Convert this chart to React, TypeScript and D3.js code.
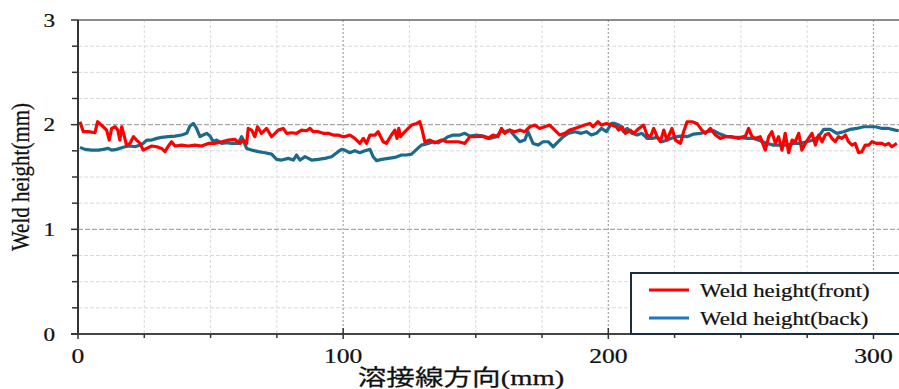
import * as d3 from 'd3';

const xTicks = [0, 100, 200, 300];
const yTicks = [0, 1, 2, 3];
const xLabel = '溶接線方向(mm)';
const yLabel = 'Weld height(mm)';
const seriesNames = ['Weld height(front)', 'Weld height(back)'];

// [position along weld (mm), height (mm)]
const front: [number, number][] = [
  [0.75, 2.028], [2.0, 1.933], [3.9, 1.933], [6.4, 1.923], [7.4, 2.028], [9.5, 1.98], [10.8, 1.948],
  [11.8, 1.853], [12.7, 1.964], [14.0, 1.98], [15.0, 1.948], [15.8, 1.853], [16.5, 1.98], [17.5, 1.885],
  [18.3, 1.805], [19.6, 1.821], [20.9, 1.885], [22.1, 1.853], [23.4, 1.821], [24.6, 1.757], [25.9, 1.773],
  [27.8, 1.796], [29.7, 1.789], [31.5, 1.773], [32.8, 1.742], [34.1, 1.796], [35.3, 1.837], [36.6, 1.796],
  [39.1, 1.805], [41.6, 1.796], [44.1, 1.805], [46.6, 1.796], [49.1, 1.821], [51.6, 1.821], [54.2, 1.837],
  [56.7, 1.853], [59.2, 1.859], [61.1, 1.821], [62.3, 1.853], [63.6, 1.821], [64.2, 1.964], [65.5, 1.948],
  [66.7, 1.885], [67.7, 1.98], [69.2, 1.917], [71.1, 1.964], [73.0, 1.885], [74.3, 1.917], [75.5, 1.948],
  [77.4, 1.964], [78.7, 1.917], [80.5, 1.923], [82.4, 1.917], [84.3, 1.948], [86.2, 1.942], [87.5, 1.964],
  [88.7, 1.933], [90.6, 1.933], [92.5, 1.917], [94.4, 1.917], [96.2, 1.901], [98.1, 1.901], [100.0, 1.885],
  [100.6, 1.885], [102.5, 1.901], [104.4, 1.869], [106.3, 1.821], [107.6, 1.869], [108.8, 1.821],
  [110.1, 1.901], [112.0, 1.901], [113.2, 1.933], [115.1, 1.837], [116.3, 1.821], [118.2, 1.901],
  [119.5, 1.948], [120.3, 1.869], [121.0, 1.964], [121.6, 1.885], [123.3, 1.933], [125.8, 1.996],
  [127.7, 2.012], [128.9, 2.028], [129.8, 1.948], [130.8, 1.837], [132.7, 1.853], [134.6, 1.827],
  [137.1, 1.853], [139.0, 1.837], [140.9, 1.837], [143.4, 1.837], [145.9, 1.821], [147.8, 1.885],
  [149.6, 1.885], [152.2, 1.891], [154.7, 1.869], [156.5, 1.901], [158.4, 1.885], [159.7, 1.964],
  [160.9, 1.917], [162.8, 1.948], [164.7, 1.933], [166.6, 1.948], [168.5, 1.933], [170.4, 1.98],
  [172.3, 1.996], [174.1, 1.964], [176.0, 1.98], [177.9, 1.996], [179.8, 1.948], [181.7, 1.901],
  [183.6, 1.917], [185.4, 1.948], [187.3, 1.964], [189.2, 1.98], [191.1, 1.996], [193.0, 2.012],
  [194.2, 1.98], [196.1, 2.028], [197.4, 1.996], [199.3, 2.012], [201.2, 1.996], [203.0, 1.98],
  [203.9, 1.948], [205.2, 1.98], [206.4, 1.917], [208.3, 1.948], [209.6, 1.917], [211.5, 1.964],
  [213.3, 1.996], [214.6, 1.901], [215.9, 1.885], [217.1, 1.964], [218.4, 1.885], [219.6, 1.837],
  [220.9, 1.948], [222.1, 1.853], [224.0, 1.964], [225.3, 1.853], [227.2, 1.821], [228.4, 1.933],
  [229.7, 2.028], [231.6, 2.028], [233.4, 2.012], [235.3, 1.948], [236.6, 1.917], [238.5, 1.964],
  [240.4, 1.901], [242.2, 1.869], [244.1, 1.885], [246.6, 1.885], [249.2, 1.869], [251.7, 1.891],
  [252.9, 1.964], [254.2, 1.885], [255.4, 1.869], [257.3, 1.885], [259.2, 1.757], [260.5, 1.885],
  [261.7, 1.933], [263.0, 1.821], [264.2, 1.885], [265.5, 1.757], [266.7, 1.917], [268.0, 1.732],
  [269.3, 1.853], [270.5, 1.837], [271.8, 1.917], [273.0, 1.757], [274.3, 1.821], [275.5, 1.869],
  [276.8, 1.917], [278.1, 1.805], [279.3, 1.901], [280.6, 1.837], [281.8, 1.901], [283.1, 1.917],
  [284.3, 1.869], [285.6, 1.837], [286.8, 1.885], [288.1, 1.869], [289.4, 1.901], [290.6, 1.837],
  [291.9, 1.805], [293.1, 1.821], [294.4, 1.732], [295.6, 1.742], [296.9, 1.805], [298.2, 1.805],
  [299.4, 1.837], [301.3, 1.821], [303.2, 1.821], [304.4, 1.805], [305.7, 1.821], [306.9, 1.789],
  [308.8, 1.821],
];

const back: [number, number][] = [
  [0.75, 1.783], [2.6, 1.764], [5.1, 1.757], [7.7, 1.757], [9.5, 1.764], [11.4, 1.773], [12.7, 1.757],
  [14.6, 1.764], [16.5, 1.78], [17.7, 1.789], [19.6, 1.796], [21.5, 1.789], [23.4, 1.805], [24.6, 1.821],
  [25.9, 1.853], [27.8, 1.853], [29.7, 1.869], [31.5, 1.878], [34.1, 1.885], [36.6, 1.891], [39.1, 1.901],
  [41.0, 1.917], [42.2, 1.987], [43.5, 2.012], [44.7, 1.964], [46.0, 1.885], [47.2, 1.901], [48.5, 1.917],
  [49.8, 1.891], [51.0, 1.837], [52.3, 1.853], [54.2, 1.821], [56.0, 1.827], [57.9, 1.821], [60.4, 1.821],
  [61.7, 1.885], [62.3, 1.853], [63.6, 1.773], [65.5, 1.757], [68.0, 1.742], [70.5, 1.732], [73.0, 1.719],
  [74.9, 1.668], [76.8, 1.662], [79.3, 1.678], [81.2, 1.662], [82.4, 1.71], [83.7, 1.662], [85.6, 1.694],
  [88.1, 1.662], [90.6, 1.668], [93.1, 1.678], [95.6, 1.694], [98.1, 1.742], [99.4, 1.764],
  [100.6, 1.757], [102.5, 1.732], [104.4, 1.751], [106.3, 1.732], [108.2, 1.751], [110.1, 1.764],
  [111.3, 1.694], [112.6, 1.656], [114.5, 1.668], [117.0, 1.678], [119.5, 1.687], [122.0, 1.71],
  [123.9, 1.71], [125.8, 1.719], [127.7, 1.764], [129.5, 1.805], [132.1, 1.821], [134.0, 1.837],
  [135.8, 1.827], [137.7, 1.853], [139.6, 1.885], [141.5, 1.901], [144.0, 1.901], [145.9, 1.917],
  [147.8, 1.891], [150.3, 1.901], [152.8, 1.891], [155.3, 1.869], [157.8, 1.885], [159.7, 1.948],
  [160.9, 1.933], [162.8, 1.948], [164.7, 1.891], [166.6, 1.837], [168.5, 1.853], [169.7, 1.933],
  [171.6, 1.821], [173.5, 1.805], [175.4, 1.837], [177.3, 1.837], [179.2, 1.789], [181.1, 1.837],
  [183.0, 1.885], [184.8, 1.917], [187.3, 1.933], [189.8, 1.917], [191.7, 1.933], [193.6, 1.901],
  [195.5, 1.917], [197.4, 1.964], [199.3, 1.933], [201.2, 2.012], [202.4, 2.012], [203.9, 1.996],
  [205.8, 1.933], [207.1, 1.964], [208.9, 1.917], [210.8, 1.901], [212.7, 1.917], [214.6, 1.869],
  [216.5, 1.869], [218.4, 1.878], [220.3, 1.837], [222.1, 1.853], [224.6, 1.878], [227.2, 1.891],
  [229.7, 1.885], [232.2, 1.91], [234.7, 1.917], [237.2, 1.933], [239.7, 1.942], [242.2, 1.91],
  [244.8, 1.885], [247.3, 1.878], [249.8, 1.878], [252.3, 1.869], [254.8, 1.869], [257.3, 1.847],
  [259.8, 1.821], [262.3, 1.805], [264.9, 1.805], [267.4, 1.805], [269.9, 1.821], [272.4, 1.821],
  [274.9, 1.837], [277.4, 1.853], [279.3, 1.885], [281.2, 1.955], [283.7, 1.955], [286.2, 1.917],
  [288.7, 1.933], [291.2, 1.955], [293.7, 1.964], [296.3, 1.98], [298.8, 1.98], [300.7, 1.98],
  [303.2, 1.964], [305.7, 1.964], [308.2, 1.948], [309.5, 1.942],
];

const serif = '"Liberation Serif", "DejaVu Serif", serif';
const cjk = '"Liberation Serif", "Noto Sans CJK JP", serif';
const stretch = 1.22; // the picture is a bit wider than it is tall

const STxt = ({ x, y, size, anchor = 'start', children, rotate = 0, font = serif, sx = stretch }: any) => (
  <text
    transform={`translate(${x},${y}) scale(${sx},1) rotate(${rotate})`}
    textAnchor={anchor}
    fontFamily={font}
    fontSize={size}
    fill="#111"
    stroke="#111"
    strokeWidth={0.25}
  >
    {children}
  </text>
);

export default function App() {
  const width = 899;
  const height = 389;
  const m = { left: 78, top: 20, right: 900, bottom: 334 };

  const x = d3.scaleLinear().domain([0, 310]).range([m.left, m.right]);
  const y = d3.scaleLinear().domain([0, 3]).range([m.bottom, m.top]);

  const line = d3
    .line<[number, number]>()
    .x((d) => x(d[0]))
    .y((d) => y(d[1]));

  const xMinor = d3.range(25, 310, 25).filter((v) => v % 100 !== 0);
  const yMinor = d3.range(0.25, 3, 0.25).filter((v) => Math.abs(v - Math.round(v)) > 0.01);

  const legX = 631;
  const legTop = 273;
  const legRows = [290, 318];

  return (
    <svg width={width} height={height} style={{ position: 'absolute', left: 0, top: 0, background: '#fff' }}>
      {/* minor grid */}
      {xMinor.map((v) => (
        <line key={'xm' + v} x1={x(v)} x2={x(v)} y1={m.top} y2={m.bottom} stroke="#d9d9d9" strokeWidth={1} strokeDasharray="3,2" />
      ))}
      {yMinor.map((v) => (
        <line key={'ym' + v} x1={m.left} x2={m.right} y1={y(v)} y2={y(v)} stroke="#d9d9d9" strokeWidth={1} strokeDasharray="4,2" />
      ))}
      {/* major grid */}
      {xTicks.slice(1).map((v) => (
        <line key={'xg' + v} x1={x(v)} x2={x(v)} y1={m.top} y2={m.bottom} stroke="#a3a3a3" strokeWidth={1.2} strokeDasharray="2,2" />
      ))}
      {yTicks.slice(1, 3).map((v) => (
        <line key={'yg' + v} x1={m.left} x2={m.right} y1={y(v)} y2={y(v)} stroke="#a8a8a8" strokeWidth={1.2} strokeDasharray="5,2" />
      ))}

      {/* series */}
      <path d={line(back) ?? ''} fill="none" stroke="#1c6a8a" strokeWidth={3.2} strokeLinejoin="round" />
      <path d={line(front) ?? ''} fill="none" stroke="#ff0000" strokeWidth={3.2} strokeLinejoin="round" />

      {/* spines */}
      <line x1={m.left} x2={m.right} y1={m.top} y2={m.top} stroke="#666" strokeWidth={1.5} />
      <line x1={m.left} x2={m.left} y1={m.top} y2={m.bottom} stroke="#333" strokeWidth={2} />
      <line x1={m.left - 7} x2={m.right} y1={m.bottom} y2={m.bottom} stroke="#444" strokeWidth={2} />

      {/* y ticks */}
      {yTicks.map((v) => (
        <line key={'yt' + v} x1={m.left - 7} x2={m.left} y1={y(v)} y2={y(v)} stroke="#333" strokeWidth={1.5} />
      ))}
      {yMinor.map((v) => (
        <line key={'ymt' + v} x1={m.left - 6} x2={m.left} y1={y(v)} y2={y(v)} stroke="#333" strokeWidth={1.5} />
      ))}
      {yTicks.map((v) => (
        <STxt key={'yl' + v} x={55} y={y(v) + 6.5} size={19} anchor="end">
          {v}
        </STxt>
      ))}

      {/* x ticks */}
      {xTicks.map((v) => (
        <line key={'xt' + v} x1={x(v)} x2={x(v)} y1={m.bottom - 6} y2={m.bottom + 5} stroke="#333" strokeWidth={1.5} />
      ))}
      {xMinor.map((v) => (
        <line key={'xmt' + v} x1={x(v)} x2={x(v)} y1={m.bottom} y2={m.bottom + 4} stroke="#333" strokeWidth={1.5} />
      ))}
      {xTicks.map((v) => (
        <STxt key={'xl' + v} x={x(v)} y={363} size={21} anchor="middle">
          {v}
        </STxt>
      ))}

      {/* axis titles */}
      <STxt x={461} y={385} size={22} anchor="middle" font={cjk} sx={1.3}>
        {xLabel}
      </STxt>
      <STxt x={29} y={177} size={21} anchor="middle" rotate={-90}>
        {yLabel}
      </STxt>

      {/* legend */}
      <rect x={legX} y={legTop} width={300} height={m.bottom - legTop} fill="#fff" stroke="#1c2e3e" strokeWidth={2} />
      {seriesNames.map((name, i) => (
        <g key={name}>
          <line x1={649} x2={689} y1={legRows[i]} y2={legRows[i]} stroke={i === 0 ? '#ff0000' : '#1a78c6'} strokeWidth={3} />
          <STxt x={700} y={legRows[i] + 6.5} size={19} sx={1.2}>
            {name}
          </STxt>
        </g>
      ))}
    </svg>
  );
}
